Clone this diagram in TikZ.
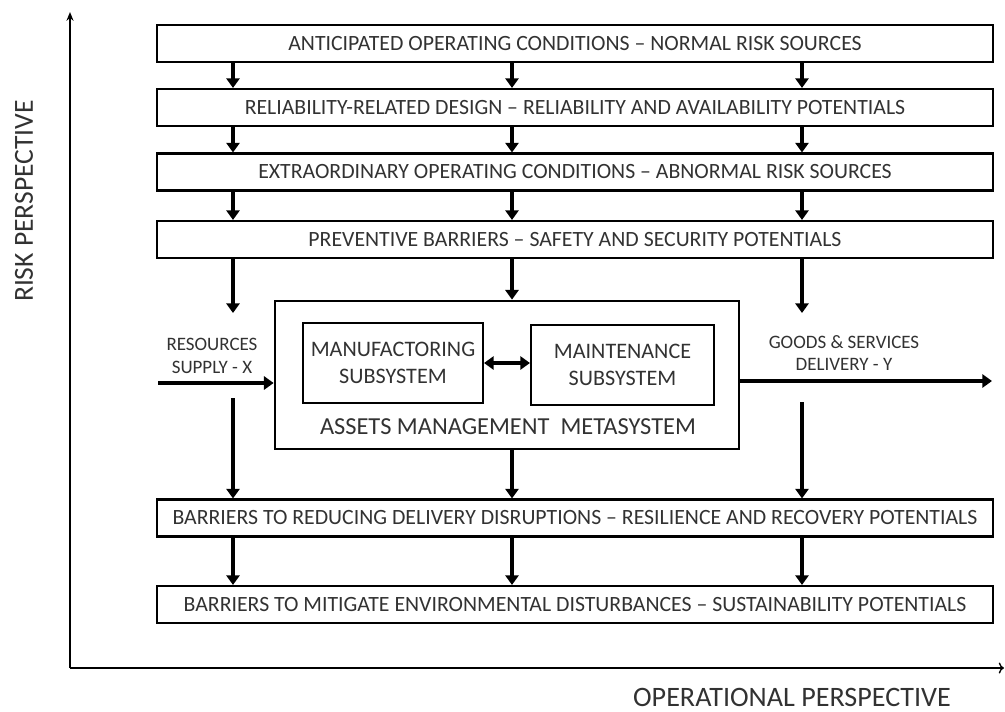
\documentclass[tikz,border=0pt]{standalone}
\usepackage{fontspec}
\setmainfont{Carlito}
\usetikzlibrary{arrows.meta}
\definecolor{tgray}{RGB}{50, 50, 50}

\begin{document}
\begin{tikzpicture}[x=0.02cm,y=-0.02cm]
                \useasboundingbox (0,0) rectangle (1005,711);

                \tikzstyle{band}=[rectangle, draw, line width=1.2pt, minimum width=16.72cm, minimum height=0.74cm, inner sep=0pt, text=tgray, font=\fontsize{12.4}{14}\selectfont]
                \tikzstyle{sub}=[rectangle, draw, line width=1.2pt, minimum height=1.6cm, align=center, inner sep=0pt, text=tgray, font=\fontsize{12.6}{15.5}\selectfont]
                \tikzstyle{lbl}=[align=center, text=tgray, font=\fontsize{10.8}{13}\selectfont]
                \tikzstyle{bind}=[-{Triangle[width=7.5pt,length=5.5pt]}, line width=2pt]
                \tikzstyle{axis}=[line width=0.8pt]

                % columns of the vertical arrows
                \coordinate (colL) at (233,0);
                \coordinate (colM) at (512,0);
                \coordinate (colR) at (802,0);

                \node[band] (B1) at (575,43.5) {ANTICIPATED OPERATING CONDITIONS -- NORMAL RISK SOURCES};
                \node[band] (B2) at (575,107.5) {RELIABILITY-RELATED DESIGN -- RELIABILITY AND AVAILABILITY POTENTIALS};
                \node[band] (B3) at (575,172) {EXTRAORDINARY OPERATING CONDITIONS -- ABNORMAL RISK SOURCES};
                \node[band] (B4) at (575,239.5) {PREVENTIVE BARRIERS -- SAFETY AND SECURITY POTENTIALS};
                \node[band] (B5) at (575,518) {BARRIERS TO REDUCING DELIVERY DISRUPTIONS -- RESILIENCE AND RECOVERY POTENTIALS};
                \node[band] (B6) at (575,604.5) {BARRIERS TO MITIGATE ENVIRONMENTAL DISTURBANCES -- SUSTAINABILITY POTENTIALS};

                \node[rectangle, draw, line width=1.6pt, minimum width=9.28cm, minimum height=2.96cm] (meta) at (507,375) {};
                \node[text=tgray, font=\fontsize{13.9}{16}\selectfont] (metaname) at (508,427) {ASSETS MANAGEMENT\ \ METASYSTEM};
                \node[sub, minimum width=3.6cm] (manu) at (393,363) {MANUFACTORING\\SUBSYSTEM};
                \node[sub, minimum width=3.66cm] (maint) at (622.5,365) {MAINTENANCE\\SUBSYSTEM};

                \node[lbl] (supply) at (212,356) {RESOURCES\\SUPPLY - X};
                \node[lbl] (delivery) at (844,353) {GOODS \& SERVICES\\DELIVERY - Y};

                \coordinate (in) at (158,383);
                \coordinate (out) at (992,381);
                \coordinate (endL) at (233,313);
                \coordinate (startL) at (233,398);
                \coordinate (endR) at (802,313);
                \coordinate (startR) at (802,402);

                \draw[bind] (B1.south -| colL) -- (B2.north -| colL);
                \draw[bind] (B1.south -| colM) -- (B2.north -| colM);
                \draw[bind] (B1.south -| colR) -- (B2.north -| colR);
                \draw[bind] (B2.south -| colL) -- (B3.north -| colL);
                \draw[bind] (B2.south -| colM) -- (B3.north -| colM);
                \draw[bind] (B2.south -| colR) -- (B3.north -| colR);
                \draw[bind] (B3.south -| colL) -- (B4.north -| colL);
                \draw[bind] (B3.south -| colM) -- (B4.north -| colM);
                \draw[bind] (B3.south -| colR) -- (B4.north -| colR);

                \draw[bind] (B4.south -| colL) -- (endL);
                \draw[bind] (B4.south -| colM) -- (meta.north -| colM);
                \draw[bind] (B4.south -| colR) -- (endR);
                \draw[bind] (startL) -- (B5.north -| colL);
                \draw[bind] (meta.south -| colM) -- (B5.north -| colM);
                \draw[bind] (startR) -- (B5.north -| colR);

                \draw[bind] (B5.south -| colL) -- (B6.north -| colL);
                \draw[bind] (B5.south -| colM) -- (B6.north -| colM);
                \draw[bind] (B5.south -| colR) -- (B6.north -| colR);

                \draw[bind] (in) -- (in -| meta.west);
                \draw[bind] (meta.east |- out) -- (out);
                \draw[{Triangle[width=7.5pt,length=5.5pt]}-{Triangle[width=7.5pt,length=5.5pt]}, line width=2pt] (manu.east) -- (manu.east -| maint.west);

                % axes
                \coordinate (origin) at (70,668);
                \coordinate (ytop) at (70,12);
                \coordinate (xend) at (1004,668);
                \draw[axis, -{Stealth[length=5pt,width=4pt]}] (origin) -- (ytop);
                \draw[axis, -{To[length=3pt]}] (origin) -- (xend);
                \node[rotate=90, text=tgray, font=\fontsize{15.7}{18}\selectfont] (risk) at (24,201) {RISK PERSPECTIVE};
                \node[text=tgray, font=\fontsize{16}{18}\selectfont] (oper) at (792,697) {OPERATIONAL PERSPECTIVE};
            \end{tikzpicture}
\end{document}
